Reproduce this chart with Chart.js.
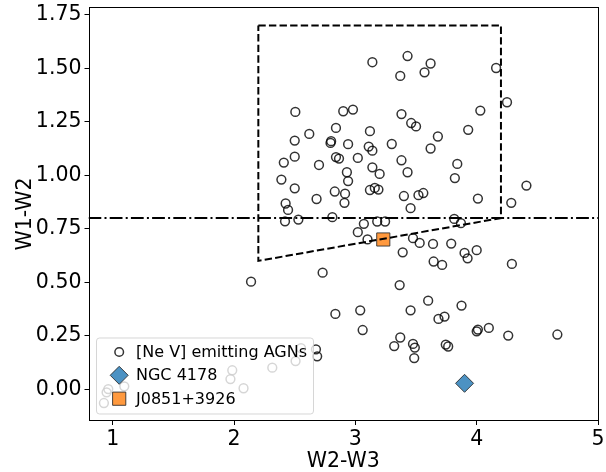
<!DOCTYPE html>
<html><head><meta charset="utf-8">
<script src="https://cdn.jsdelivr.net/npm/chart.js@4/dist/chart.umd.min.js"></script>
<style>html,body{margin:0;padding:0;background:#fff;}#wrap{width:606px;height:472px;}</style>
</head><body><div id="wrap"><canvas id="c" width="606" height="472"></canvas></div>
<script>
// ---- data ----
const agnW2W3 = [
  3.14,3.43,3.62,3.37,3.57,4.16,4.25,2.505,2.90,2.98,3.38,3.46,3.50,4.03,2.84,2.62,3.12,3.93,3.68,2.50,
  2.80,2.795,2.94,3.11,3.14,3.30,3.62,2.50,2.41,2.84,2.865,2.70,3.02,3.38,3.84,2.39,2.50,2.93,2.94,3.14,
  3.20,3.43,3.82,2.68,2.83,2.915,2.91,3.12,3.16,3.19,3.40,3.52,3.56,3.455,4.01,4.41,4.285,2.425,2.445,
  2.42,2.53,2.81,3.815,3.87,3.07,3.18,3.245,3.02,3.10,3.475,3.53,3.64,3.79,3.39,3.90,3.925,4.00,3.645,3.715,4.29,
  2.73,2.14,3.365,2.835,3.04,3.60,3.455,3.875,3.685,3.735,3.06,4.00,4.01,4.10,4.26,4.665,3.37,3.32,3.475,3.49,
  3.485,3.745,3.765,2.675,2.685,
  0.927,0.963,0.949,1.095,1.985,1.97,2.078,2.315,2.507,2.552
];
const agnW1W2 = [
  1.528,1.557,1.522,1.464,1.481,1.501,1.341,1.296,1.299,1.307,1.286,1.244,1.228,1.302,1.221,1.193,1.206,1.212,1.181,1.162,
  1.159,1.151,1.145,1.134,1.115,1.146,1.125,1.087,1.059,1.085,1.078,1.048,1.081,1.070,1.053,0.980,0.939,1.014,0.973,1.037,
  1.006,1.014,0.987,0.889,0.924,0.914,0.871,0.931,0.941,0.933,0.903,0.907,0.917,0.846,0.891,0.952,0.871,0.868,0.838,
  0.785,0.793,0.804,0.796,0.776,0.773,0.784,0.784,0.734,0.700,0.706,0.684,0.679,0.681,0.640,0.637,0.612,0.650,0.597,0.581,0.586,
  0.545,0.503,0.487,0.352,0.369,0.414,0.369,0.391,0.329,0.340,0.277,0.271,0.279,0.287,0.251,0.256,0.242,0.202,0.212,0.195,
  0.146,0.209,0.200,0.187,0.154,
  -0.064,0.001,-0.014,0.014,0.089,0.048,0.005,0.101,0.132,0.192
];
const ngcW2W3 = [3.90];
const ngcW1W2 = [0.028];
const jW2W3 = [3.23];
const jW1W2 = [0.70];
const boxW2W3 = [2.2, 4.2, 4.2, 2.2, 2.2];
const boxW1W2 = [1.7, 1.7, 0.8, 0.6, 1.7];
const cutW1W2 = 0.8;
const xRange = [0.80, 5.0];
const yRange = [-0.148, 1.786];
const xTicks = [1, 2, 3, 4, 5];
const yTicks = [0.00, 0.25, 0.50, 0.75, 1.00, 1.25, 1.50, 1.75];
const seriesLabels = ['[Ne V] emitting AGNs', 'NGC 4178', 'J0851+3926'];
const axisTitles = ['W2-W3', 'W1-W2'];

// ---- build ----
const pts = (xs, ys) => xs.map((x, i) => ({x: x, y: ys[i]}));
const FONT = 'DejaVu Sans';
const agnEdge = 'rgba(0,0,0,0.8)';
const blueFill = 'rgba(31,119,180,0.8)';
const orangeFill = 'rgba(255,127,14,0.8)';
const markEdge = 'rgba(40,40,40,0.85)';

const framePlugin = {
  id: 'frame',
  afterDatasetsDraw(chart) {
    const {ctx, chartArea: a} = chart;
    ctx.save();
    ctx.strokeStyle = '#000';
    ctx.lineWidth = 1;
    ctx.strokeRect(Math.round(a.left) + 0.5, Math.round(a.top) + 0.5,
                   Math.round(a.right - a.left) - 1, Math.round(a.bottom - a.top) - 1);
    ctx.restore();
  }
};

const legendPlugin = {
  id: 'boxLegend',
  afterDraw(chart) {
    const {ctx, chartArea: a} = chart;
    const x0 = a.left + 8, y1 = a.bottom - 7, w = 217, h = 76;
    const y0 = y1 - h, r = 3;
    ctx.save();
    ctx.beginPath();
    ctx.moveTo(x0 + r, y0);
    ctx.lineTo(x0 + w - r, y0); ctx.quadraticCurveTo(x0 + w, y0, x0 + w, y0 + r);
    ctx.lineTo(x0 + w, y0 + h - r); ctx.quadraticCurveTo(x0 + w, y0 + h, x0 + w - r, y0 + h);
    ctx.lineTo(x0 + r, y0 + h); ctx.quadraticCurveTo(x0, y0 + h, x0, y0 + h - r);
    ctx.lineTo(x0, y0 + r); ctx.quadraticCurveTo(x0, y0, x0 + r, y0);
    ctx.closePath();
    ctx.fillStyle = 'rgba(255,255,255,0.8)';
    ctx.fill();
    ctx.strokeStyle = 'rgba(204,204,204,0.8)';
    ctx.lineWidth = 1;
    ctx.stroke();
    const mx = x0 + 22.7, tx = x0 + 39.5;
    const rows = [y0 + 14, y0 + 37.3, y0 + 60.7];
    ctx.beginPath(); ctx.arc(mx, rows[0], 4.3, 0, Math.PI * 2);
    ctx.strokeStyle = agnEdge; ctx.lineWidth = 1.5; ctx.stroke();
    const d = 9;
    ctx.beginPath(); ctx.moveTo(mx, rows[1] - d); ctx.lineTo(mx + d, rows[1]);
    ctx.lineTo(mx, rows[1] + d); ctx.lineTo(mx - d, rows[1]); ctx.closePath();
    ctx.fillStyle = blueFill; ctx.fill(); ctx.strokeStyle = markEdge; ctx.lineWidth = 1; ctx.stroke();
    const s = 6.6;
    ctx.beginPath(); ctx.rect(mx - s, rows[2] - s, 2 * s, 2 * s);
    ctx.fillStyle = orangeFill; ctx.fill(); ctx.strokeStyle = markEdge; ctx.stroke();
    ctx.fillStyle = '#000';
    ctx.font = '16px "' + FONT + '"';
    ctx.textBaseline = 'middle';
    ctx.textAlign = 'left';
    seriesLabels.forEach((t, i) => ctx.fillText(t, tx, rows[i] + 1));
    ctx.restore();
  }
};

new Chart(document.getElementById('c'), {
  type: 'scatter',
  data: {
    datasets: [
      {label: seriesLabels[0], data: pts(agnW2W3, agnW1W2), order: 3,
       pointStyle: 'circle', pointRadius: 4.4, pointBorderWidth: 1.5,
       pointBackgroundColor: 'rgba(0,0,0,0)', pointBorderColor: agnEdge},
      {label: seriesLabels[1], data: pts(ngcW2W3, ngcW1W2), order: 2,
       pointStyle: 'rectRot', pointRadius: 9, pointBorderWidth: 1,
       pointBackgroundColor: blueFill, pointBorderColor: markEdge},
      {label: seriesLabels[2], data: pts(jW2W3, jW1W2), order: 2,
       pointStyle: 'rect', pointRadius: 9.3, pointBorderWidth: 1,
       pointBackgroundColor: orangeFill, pointBorderColor: markEdge},
      {label: 'box', data: pts(boxW2W3, boxW1W2), order: 0, showLine: true,
       pointRadius: 0, borderColor: '#000', borderWidth: 2, borderDash: [7.4, 3.2], fill: false, tension: 0},
      {label: 'cut', data: pts(xRange, [cutW1W2, cutW1W2]), order: 0, showLine: true,
       pointRadius: 0, borderColor: '#000', borderWidth: 2, borderDash: [12.8, 3.2, 2, 3.2], fill: false, tension: 0}
    ]
  },
  options: {
    responsive: false,
    animation: false,
    devicePixelRatio: 1,
    layout: {autoPadding: false, padding: {left: 0, top: 7, right: 8, bottom: 0}},
    plugins: {legend: {display: false}, tooltip: {enabled: false}},
    scales: {
      x: {
        type: 'linear', min: xRange[0], max: xRange[1],
        afterFit: s => { s.height = 51; s.paddingLeft = 0; s.paddingRight = 0; },
        afterBuildTicks: s => { s.ticks = xTicks.map(v => ({value: v})); },
        ticks: {color: '#000', font: {family: FONT, size: 20.5}, padding: 2,
                callback: v => String(v), maxRotation: 0},
        grid: {display: true, drawOnChartArea: false, drawTicks: true, tickLength: 4, color: '#000'},
        border: {display: false},
        title: {display: true, text: axisTitles[0], color: '#000',
                font: {family: FONT, size: 20.5, lineHeight: 1.05}, padding: {top: 0, bottom: 0}}
      },
      y: {
        type: 'linear', min: yRange[0], max: yRange[1],
        afterFit: s => { s.width = 88.5; s.paddingTop = 0; s.paddingBottom = 0; },
        afterBuildTicks: s => { s.ticks = yTicks.map(v => ({value: v})); },
        ticks: {color: '#000', font: {family: FONT, size: 20.5}, padding: 3,
                callback: v => Number(v).toFixed(2)},
        grid: {display: true, drawOnChartArea: false, drawTicks: true, tickLength: 4, color: '#000'},
        border: {display: false},
        title: {display: true, text: axisTitles[1], color: '#000',
                font: {family: FONT, size: 20.5, lineHeight: 1.2}, padding: {top: 13, bottom: 0}}
      }
    }
  },
  plugins: [framePlugin, legendPlugin]
});
</script>
</body></html>
